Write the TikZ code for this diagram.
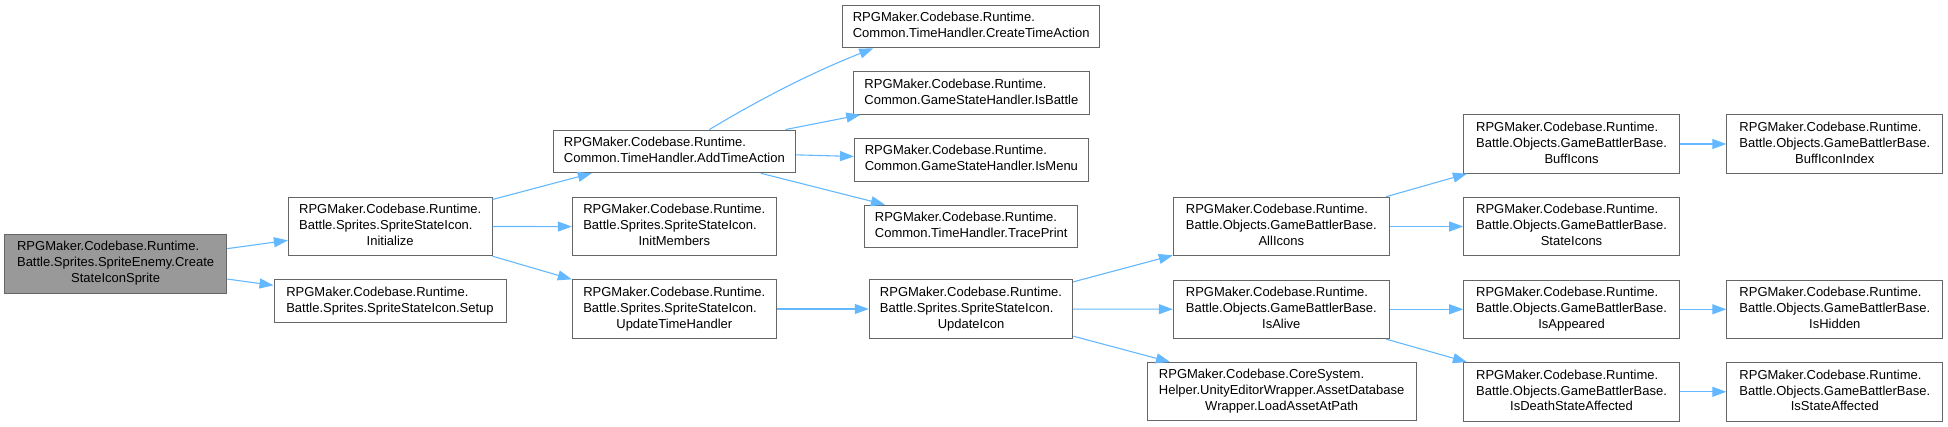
\documentclass[tikz,border=0pt]{standalone}
\usepackage{fontspec}
\setmainfont{Liberation Sans}
\usetikzlibrary{arrows.meta}
\definecolor{edgeblue}{HTML}{63B8FF}
\definecolor{boxgray}{HTML}{666666}
\definecolor{rootfill}{HTML}{999999}
\newcommand{\dxtwo}[2]{\begin{tabular}{@{}l@{}}#1\\\multicolumn{1}{@{}c@{}}{#2}\end{tabular}}
\newcommand{\dxthree}[3]{\begin{tabular}{@{}l@{}}#1\\#2\\\multicolumn{1}{@{}c@{}}{#3}\end{tabular}}
\begin{document}
\begin{tikzpicture}[x=1pt,y=-1pt,
  dbox/.style={draw=boxgray, fill=white, line width=1pt, inner sep=0pt,
    font=\fontsize{13}{16}\selectfont, minimum height=58.5pt},
  dtwo/.style={dbox, minimum height=42.7pt},
  droot/.style={dbox, fill=rootfill},
  conn/.style={draw=edgeblue, line width=1.1pt, -{Triangle[length=14pt,width=10pt]}}]
\useasboundingbox (0,0) rectangle (1948,427);
% nodes
\node[droot, minimum width=222.3pt] (create) at (115.6,263.8) {\dxthree{RPGMaker.Codebase.Runtime.}{Battle.Sprites.SpriteEnemy.Create}{StateIconSprite}};
\node[dbox, minimum width=203.7pt] (init) at (390.2,226.5) {\dxthree{RPGMaker.Codebase.Runtime.}{Battle.Sprites.SpriteStateIcon.}{Initialize}};
\node[dtwo, minimum width=232pt] (setup) at (390,301.2) {\dxtwo{RPGMaker.Codebase.Runtime.}{Battle.Sprites.SpriteStateIcon.Setup}};
\node[dtwo, minimum width=241.8pt] (addtime) at (674.4,151.4) {\dxtwo{RPGMaker.Codebase.Runtime.}{Common.TimeHandler.AddTimeAction}};
\node[dbox, minimum width=204pt] (initmem) at (674.3,226.6) {\dxthree{RPGMaker.Codebase.Runtime.}{Battle.Sprites.SpriteStateIcon.}{InitMembers}};
\node[dbox, minimum width=204pt] (updth) at (674.3,309) {\dxthree{RPGMaker.Codebase.Runtime.}{Battle.Sprites.SpriteStateIcon.}{UpdateTimeHandler}};
\node[dtwo, minimum width=257pt] (createta) at (971.2,26.5) {\dxtwo{RPGMaker.Codebase.Runtime.}{Common.TimeHandler.CreateTimeAction}};
\node[dtwo, minimum width=236pt] (isbattle) at (971.4,93) {\dxtwo{RPGMaker.Codebase.Runtime.}{Common.GameStateHandler.IsBattle}};
\node[dtwo, minimum width=233.8pt] (ismenu) at (971.4,159.8) {\dxtwo{RPGMaker.Codebase.Runtime.}{Common.GameStateHandler.IsMenu}};
\node[dtwo, minimum width=213pt] (trace) at (971.2,226.5) {\dxtwo{RPGMaker.Codebase.Runtime.}{Common.TimeHandler.TracePrint}};
\node[dbox, minimum width=203.4pt] (updicon) at (971,309) {\dxthree{RPGMaker.Codebase.Runtime.}{Battle.Sprites.SpriteStateIcon.}{UpdateIcon}};
\node[dbox, minimum width=216pt] (allicons) at (1281.3,226.5) {\dxthree{RPGMaker.Codebase.Runtime.}{Battle.Objects.GameBattlerBase.}{AllIcons}};
\node[dbox, minimum width=216pt] (isalive) at (1281.3,309.3) {\dxthree{RPGMaker.Codebase.Runtime.}{Battle.Objects.GameBattlerBase.}{IsAlive}};
\node[dbox, minimum width=268.7pt] (loadasset) at (1281.7,391.7) {\dxthree{RPGMaker.Codebase.CoreSystem.}{Helper.UnityEditorWrapper.AssetDatabase}{Wrapper.LoadAssetAtPath}};
\node[dbox, minimum width=215.7pt] (bufficons) at (1571.5,144) {\dxthree{RPGMaker.Codebase.Runtime.}{Battle.Objects.GameBattlerBase.}{BuffIcons}};
\node[dbox, minimum width=215.7pt] (stateicons) at (1571.5,226.5) {\dxthree{RPGMaker.Codebase.Runtime.}{Battle.Objects.GameBattlerBase.}{StateIcons}};
\node[dbox, minimum width=215.7pt] (isappeared) at (1571.5,309.3) {\dxthree{RPGMaker.Codebase.Runtime.}{Battle.Objects.GameBattlerBase.}{IsAppeared}};
\node[dbox, minimum width=215.7pt] (isdeath) at (1571.5,391.8) {\dxthree{RPGMaker.Codebase.Runtime.}{Battle.Objects.GameBattlerBase.}{IsDeathStateAffected}};
\node[dbox, minimum width=216pt] (bufficonidx) at (1834.8,144) {\dxthree{RPGMaker.Codebase.Runtime.}{Battle.Objects.GameBattlerBase.}{BuffIconIndex}};
\node[dbox, minimum width=216pt] (ishidden) at (1834.8,309.3) {\dxthree{RPGMaker.Codebase.Runtime.}{Battle.Objects.GameBattlerBase.}{IsHidden}};
\node[dbox, minimum width=216pt] (isstateaff) at (1834.8,391.8) {\dxthree{RPGMaker.Codebase.Runtime.}{Battle.Objects.GameBattlerBase.}{IsStateAffected}};
% edges
\draw[conn] (create) -- (init);
\draw[conn] (create) -- (setup);
\draw[conn] (init) -- (addtime);
\draw[conn] (init) -- (initmem);
\draw[conn] (init) -- (updth);
\draw[conn] ([xshift=35pt]addtime.north) .. controls (760,99) and (813,72) .. ([xshift=-98pt]createta.south);
\draw[conn] (addtime) -- (isbattle);
\draw[conn] (addtime) -- (ismenu);
\draw[conn] (addtime) -- (trace);
\draw[conn] (updth) -- (updicon);
\draw[conn] (updicon) -- (allicons);
\draw[conn] (updicon) -- (isalive);
\draw[conn] (updicon) -- (loadasset);
\draw[conn] (allicons) -- (bufficons);
\draw[conn] (allicons) -- (stateicons);
\draw[conn] (isalive) -- (isappeared);
\draw[conn] (isalive) -- (isdeath);
\draw[conn] (bufficons) -- (bufficonidx);
\draw[conn] (isappeared) -- (ishidden);
\draw[conn] (isdeath) -- (isstateaff);
\end{tikzpicture}
\end{document}
